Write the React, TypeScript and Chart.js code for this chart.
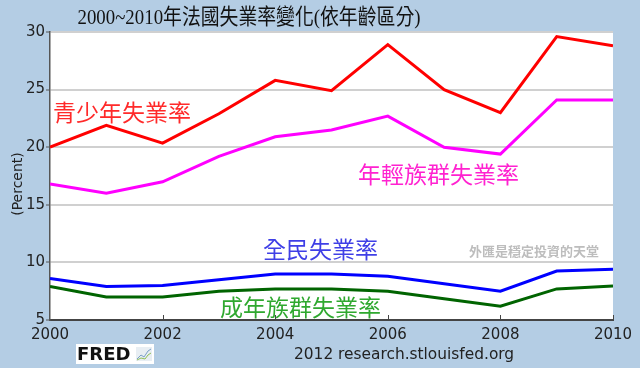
import React, { useEffect, useRef } from "react";
import { Chart, registerables } from "chart.js";

Chart.register(...registerables);

const years = [2000, 2001, 2002, 2003, 2004, 2005, 2006, 2007, 2008, 2009, 2010];
const youth = [20.0, 21.9, 20.35, 22.9, 25.8, 24.9, 28.9, 25.0, 23.0, 29.6, 28.8];
const young = [16.8, 16.0, 17.0, 19.2, 20.9, 21.5, 22.7, 20.0, 19.4, 24.1, 24.1];
const total = [8.6, 7.9, 8.0, 8.5, 9.0, 9.0, 8.8, 8.15, 7.5, 9.25, 9.4];
const adult = [7.9, 7.0, 7.0, 7.5, 7.7, 7.7, 7.5, 6.85, 6.2, 7.7, 7.95];

const titleText = "2000~2010年法國失業率變化(依年齡區分)";
const yAxisTitle = "(Percent)";
const footerText = "2012 research.stlouisfed.org";
const watermark = "外匯是穩定投資的天堂";
const labelYouth = "青少年失業率";
const labelYoung = "年輕族群失業率";
const labelTotal = "全民失業率";
const labelAdult = "成年族群失業率";

const BG = "#b4cde4";
const CJK = '"Noto Sans CJK TC", "Noto Sans CJK SC", sans-serif';

const decorPlugin = {
  id: "decor",
  beforeDraw(chart: any) {
    const { ctx, chartArea } = chart;
    ctx.save();
    ctx.fillStyle = BG;
    ctx.fillRect(0, 0, chart.width, chart.height);
    ctx.fillStyle = "#ffffff";
    ctx.fillRect(chartArea.left, chartArea.top, chartArea.right - chartArea.left, chartArea.bottom - chartArea.top);
    ctx.restore();
  },
  afterDraw(chart: any) {
    const { ctx, chartArea, scales } = chart;
    ctx.save();
    // inward x ticks
    ctx.strokeStyle = "#444";
    ctx.lineWidth = 1;
    for (let v = 2002; v <= 2010; v += 2) {
      const x = Math.round(scales.x.getPixelForValue(v)) + 0.5;
      ctx.beginPath();
      ctx.moveTo(x, chartArea.bottom);
      ctx.lineTo(x, chartArea.bottom - 5);
      ctx.stroke();
    }
    // title (condensed to match target width)
    ctx.save();
    ctx.fillStyle = "#111";
    ctx.font = `22px "Liberation Serif", ${CJK}`;
    ctx.textAlign = "center";
    ctx.textBaseline = "middle";
    const w = ctx.measureText(titleText).width;
    const sx = Math.min(1, 343 / w);
    ctx.translate(249, 18);
    ctx.scale(sx, 1);
    ctx.fillText(titleText, 0, 0);
    ctx.restore();
    // y axis title
    ctx.save();
    ctx.textAlign = "center";
    ctx.textBaseline = "middle";
    ctx.translate(18, 184);
    ctx.rotate(-Math.PI / 2);
    ctx.font = '14px "DejaVu Sans", sans-serif';
    ctx.fillStyle = "#222";
    ctx.fillText(yAxisTitle, 0, 0);
    ctx.restore();
    // series labels
    ctx.textBaseline = "middle";
    ctx.textAlign = "left";
    ctx.font = `23px ${CJK}`;
    ctx.fillStyle = "#ff2a2a";
    ctx.fillText(labelYouth, 53, 112);
    ctx.fillStyle = "#ff22d0";
    ctx.fillText(labelYoung, 358, 174);
    ctx.fillStyle = "#3f3fe6";
    ctx.fillText(labelTotal, 263, 249);
    ctx.fillStyle = "#2fa82f";
    ctx.fillText(labelAdult, 220, 307);
    // watermark
    ctx.font = `bold 13px ${CJK}`;
    ctx.fillStyle = "#bdbdbd";
    ctx.fillText(watermark, 469, 251);
    // footer
    ctx.font = '15.4px "DejaVu Sans", sans-serif';
    ctx.fillStyle = "#222";
    ctx.fillText(footerText, 294, 355);
    // FRED logo
    ctx.fillStyle = "#ffffff";
    ctx.fillRect(76, 344, 78, 20);
    ctx.fillStyle = "#111";
    ctx.font = 'bold 18px "DejaVu Sans", sans-serif';
    ctx.fillText("FRED", 77, 355);
    ctx.fillStyle = "#e8eef3";
    ctx.fillRect(136, 347, 16, 14);
    ctx.lineWidth = 1;
    ctx.strokeStyle = "#7aa0c8";
    ctx.beginPath();
    ctx.moveTo(137, 359); ctx.lineTo(141, 355); ctx.lineTo(144, 357); ctx.lineTo(148, 351); ctx.lineTo(151, 349);
    ctx.stroke();
    ctx.strokeStyle = "#8fbf5a";
    ctx.beginPath();
    ctx.moveTo(137, 360); ctx.lineTo(141, 358); ctx.lineTo(145, 359); ctx.lineTo(148, 355); ctx.lineTo(151, 353);
    ctx.stroke();
    ctx.restore();
  },
};

function pts(vals: number[]) {
  return years.map((y, i) => ({ x: y, y: vals[i] }));
}

export default function App() {
  const ref = useRef<HTMLCanvasElement>(null);
  useEffect(() => {
    if (!ref.current) return;
    const mk = (label: string, vals: number[], color: string) => ({
      label,
      data: pts(vals),
      borderColor: color,
      backgroundColor: color,
      borderWidth: 3,
      pointRadius: 0,
      tension: 0,
      fill: false,
    });
    const chart = new Chart(ref.current, {
      type: "line",
      data: {
        datasets: [
          mk(labelYouth, youth, "#ff0000"),
          mk(labelYoung, young, "#ff00ff"),
          mk(labelTotal, total, "#0000ff"),
          mk(labelAdult, adult, "#006400"),
        ],
      },
      plugins: [decorPlugin],
      options: {
        responsive: false,
        animation: false,
        layout: { padding: { top: 32, right: 27, bottom: 18, left: 0 } },
        plugins: { legend: { display: false }, tooltip: { enabled: false }, title: { display: false } },
        scales: {
          x: {
            type: "linear",
            min: 2000,
            max: 2010,
            afterFit: (s: any) => { s.height = 30; },
            ticks: {
              stepSize: 2,
              padding: 6,
              color: "#222",
              font: { family: '"DejaVu Sans", sans-serif', size: 15 },
              callback: (v: any) => String(v),
              maxRotation: 0,
            },
            grid: { display: true, drawOnChartArea: false, drawTicks: false },
            border: { display: true, color: "#444", width: 2 },
          },
          y: {
            min: 5,
            max: 30,
            afterFit: (s: any) => { s.width = 50; },
            ticks: {
              stepSize: 5,
              padding: 1,
              color: "#222",
              font: { family: '"DejaVu Sans", sans-serif', size: 15 },
            },
            grid: { color: "#d0d0d0", lineWidth: 2, tickLength: 4, tickColor: "#555", tickWidth: 1 },
            border: { display: true, color: "#555", width: 1.5 },
          },
        },
      },
    });
    return () => chart.destroy();
  }, []);
  return (
    <div style={{ position: "fixed", left: 0, top: 0, width: 640, height: 368, background: BG }}>
      <canvas ref={ref} width={640} height={368} />
    </div>
  );
}
